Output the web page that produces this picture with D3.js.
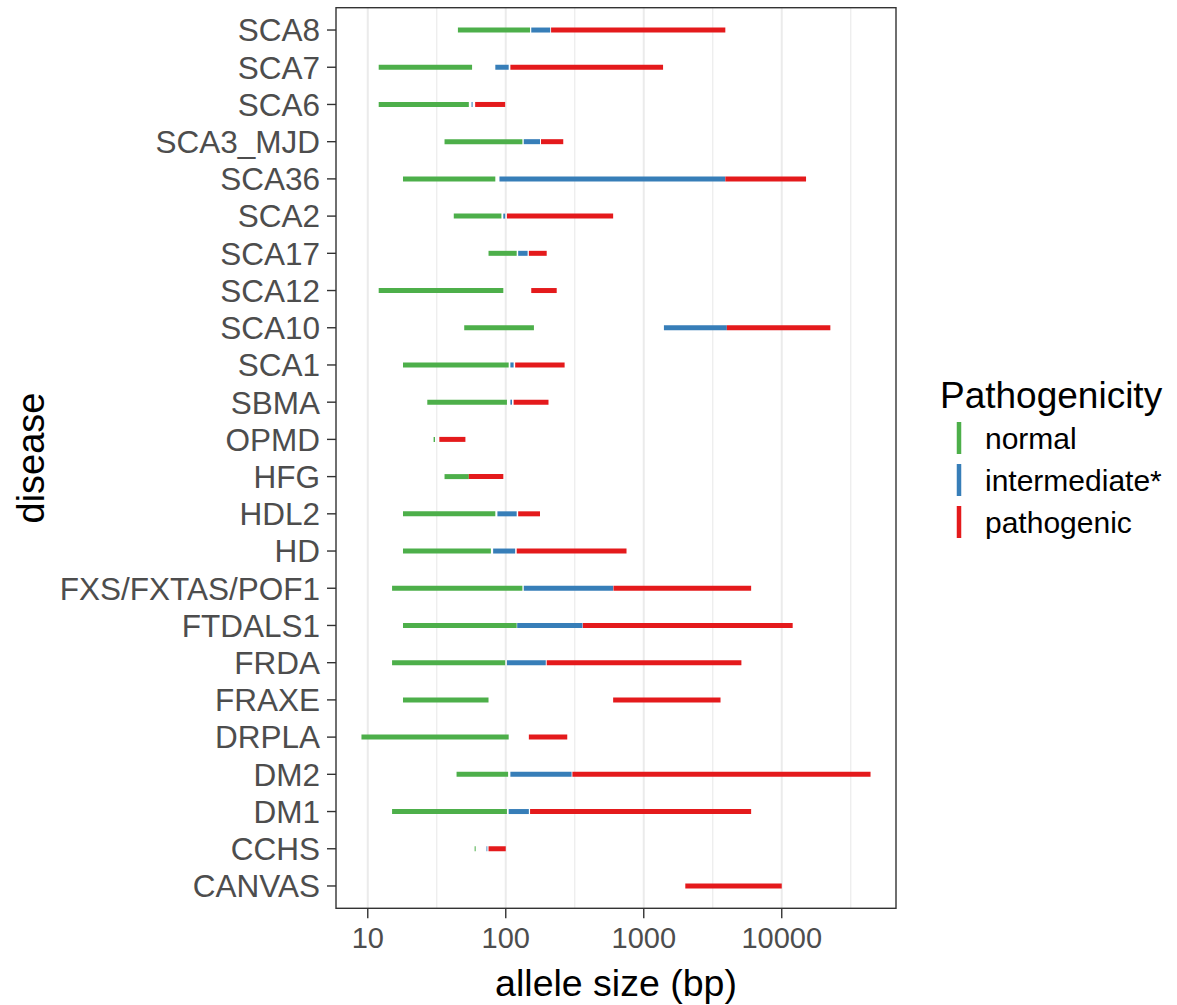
<!DOCTYPE html>
<html>
<head>
<meta charset="utf-8">
<script src="https://cdn.jsdelivr.net/npm/d3@7"></script>
<style>
  body { margin: 0; background: #fff; }
  text { font-family: "Liberation Sans", Arial, Helvetica, sans-serif; }
</style>
</head>
<body>
<div id="chart"></div>
<script>
// diseases, top row first
const diseases = ['SCA8', 'SCA7', 'SCA6', 'SCA3_MJD', 'SCA36', 'SCA2', 'SCA17', 'SCA12',
  'SCA10', 'SCA1', 'SBMA', 'OPMD', 'HFG', 'HDL2', 'HD', 'FXS/FXTAS/POF1', 'FTDALS1',
  'FRDA', 'FRAXE', 'DRPLA', 'DM2', 'DM1', 'CCHS', 'CANVAS'];

// allele size ranges in bp (null = no such range)
const normalRange = [[45, 150], [12, 57], [12, 54], [36, 132], [18, 84], [42, 93], [75, 120], [12, 96],
  [50, 160], [18, 105], [27, 102], [30, 30.7], [36, 54], [18, 84], [18, 78], [15, 132], [18, 120],
  [15, 99], [18, 75], [9, 105], [44, 104], [15, 102], [59.5, 60.5], null];
const intermediateRange = [[153, 210], [84, 105], [56.5, 57.5], [135, 177], [90, 3894], [96, 99], [123, 144], null,
  [1400, 4000], [108, 114], [108, 111], null, null, [87, 120], [81, 117], [135, 600], [121, 360],
  [102, 195], null, null, [108, 300], [105, 147], [72.5, 73.5], null];
const pathogenicRange = [[213, 3900], [108, 1380], [60, 99], [180, 261], [3900, 15000], [102, 600], [147, 198], [153, 234],
  [4000, 22500], [117, 267], [114, 204], [33, 51], [54, 96], [123, 177], [120, 750], [603, 6000], [362, 12000],
  [198, 5100], [600, 3600], [147, 279], [304, 44000], [150, 6000], [75, 100], [2000, 10000]];

const groups = ['normal', 'intermediate*', 'pathogenic'];
const groupColors = ['#4DAF4A', '#377EB8', '#E41A1C'];
const xTicks = [10, 100, 1000, 10000];

const width = 1177, height = 1005;
const panel = { left: 336, right: 896, top: 7.7, bottom: 908.3 };

const svg = d3.select('#chart').append('svg')
    .attr('width', width)
    .attr('height', height)
    .style('background', '#fff');

// flatten ranges into segments
const segments = [];
[normalRange, intermediateRange, pathogenicRange].forEach((ranges, gi) => {
    ranges.forEach((r, i) => {
        if (r) segments.push({ disease: diseases[i], group: groups[gi], lo: r[0], hi: r[1] });
    });
});

// log scale with ggplot-like 5% expansion
const logExt = d3.extent(segments.flatMap(s => [s.lo, s.hi]).map(Math.log10));
const pad = (logExt[1] - logExt[0]) * 0.05;
const x = d3.scaleLog()
    .domain([Math.pow(10, logExt[0] - pad), Math.pow(10, logExt[1] + pad)])
    .range([panel.left, panel.right]);

const y = d3.scalePoint()
    .domain(diseases)
    .range([panel.top, panel.bottom])
    .padding(0.6);

const color = d3.scaleOrdinal().domain(groups).range(groupColors);

// grid lines
const minor = xTicks.map(t => t * Math.sqrt(10)).filter(v => v < x.domain()[1]);
svg.append('g').selectAll('line.minor')
    .data(minor).enter().append('line')
    .attr('x1', d => x(d)).attr('x2', d => x(d))
    .attr('y1', panel.top).attr('y2', panel.bottom)
    .attr('stroke', '#EBEBEB').attr('stroke-width', 1.2);
svg.append('g').selectAll('line.major')
    .data(xTicks).enter().append('line')
    .attr('x1', d => x(d)).attr('x2', d => x(d))
    .attr('y1', panel.top).attr('y2', panel.bottom)
    .attr('stroke', '#EBEBEB').attr('stroke-width', 2);

// range segments
svg.append('g').selectAll('line.seg')
    .data(segments).enter().append('line')
    .attr('x1', d => x(d.lo)).attr('x2', d => x(d.hi))
    .attr('y1', d => y(d.disease)).attr('y2', d => y(d.disease))
    .attr('stroke', d => color(d.group))
    .attr('stroke-width', 5);

// panel border
svg.append('rect')
    .attr('x', panel.left).attr('y', panel.top)
    .attr('width', panel.right - panel.left)
    .attr('height', panel.bottom - panel.top)
    .attr('fill', 'none')
    .attr('stroke', '#333333')
    .attr('stroke-width', 1.4);

// y axis
const yAxis = svg.append('g');
yAxis.selectAll('line')
    .data(diseases).enter().append('line')
    .attr('x1', panel.left - 9).attr('x2', panel.left)
    .attr('y1', d => y(d)).attr('y2', d => y(d))
    .attr('stroke', '#333333').attr('stroke-width', 1.4);
yAxis.selectAll('text')
    .data(diseases).enter().append('text')
    .attr('x', panel.left - 16)
    .attr('y', d => y(d))
    .attr('dy', '0.36em')
    .attr('text-anchor', 'end')
    .attr('fill', '#4D4D4D')
    .attr('font-size', '31.5px')
    .text(d => d);

// x axis
const xAxis = svg.append('g');
xAxis.selectAll('line')
    .data(xTicks).enter().append('line')
    .attr('x1', d => x(d)).attr('x2', d => x(d))
    .attr('y1', panel.bottom).attr('y2', panel.bottom + 10)
    .attr('stroke', '#333333').attr('stroke-width', 1.4);
xAxis.selectAll('text')
    .data(xTicks).enter().append('text')
    .attr('x', d => x(d))
    .attr('y', 948)
    .attr('text-anchor', 'middle')
    .attr('fill', '#4D4D4D')
    .attr('font-size', '29px')
    .text(d => d);

// axis titles
svg.append('text')
    .attr('x', (panel.left + panel.right) / 2)
    .attr('y', 996)
    .attr('text-anchor', 'middle')
    .attr('font-size', '37.5px')
    .text('allele size (bp)');
svg.append('text')
    .attr('transform', `translate(44, ${(panel.top + panel.bottom) / 2}) rotate(-90)`)
    .attr('text-anchor', 'middle')
    .attr('font-size', '38px')
    .text('disease');

// legend
const legend = svg.append('g');
legend.append('text')
    .attr('x', 940).attr('y', 408)
    .attr('font-size', '37px')
    .text('Pathogenicity');
const items = legend.selectAll('g.item')
    .data(groups).enter().append('g')
    .attr('transform', (d, i) => `translate(0, ${438 + i * 42})`);
items.append('line')
    .attr('x1', 959).attr('x2', 959)
    .attr('y1', -16).attr('y2', 16)
    .attr('stroke', d => color(d))
    .attr('stroke-width', 4.5);
items.append('text')
    .attr('x', 985).attr('y', 0)
    .attr('dy', '0.36em')
    .attr('font-size', '30px')
    .text(d => d);
</script>
</body>
</html>
